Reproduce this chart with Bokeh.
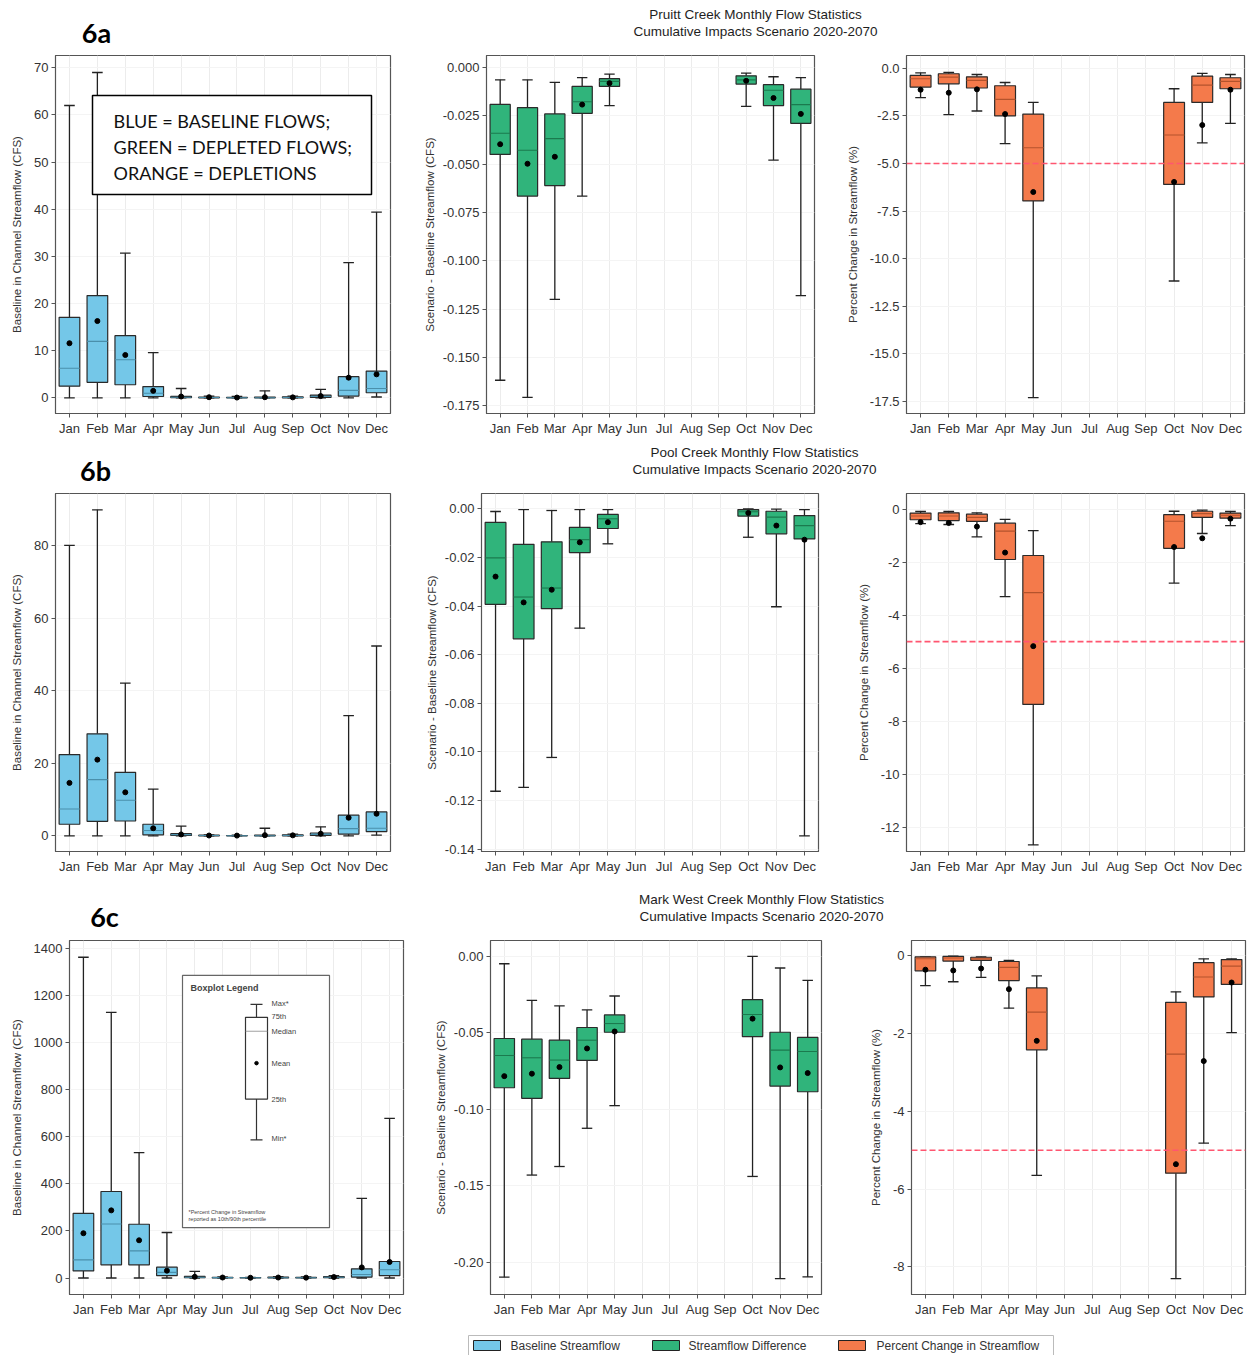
from bokeh.plotting import figure
from bokeh.layouts import column, row
from bokeh.models import Range1d, FixedTicker, PrintfTickFormatter, Span, ColumnDataSource
from bokeh.core.properties import value
from bokeh.embed import file_html
from bokeh.resources import INLINE

N = None
MONTHS = ["Jan", "Feb", "Mar", "Apr", "May", "Jun", "Jul", "Aug", "Sep", "Oct", "Nov", "Dec"]

# ---------------- Pruitt Creek ----------------
PRUITT_BASE_MAX = [62.0, 69.0, 30.7, 9.6, 2.0, 0.4, 0.3, 1.5, 0.4, 1.8, 28.7, 39.4]
PRUITT_BASE_Q3 = [17.1, 21.7, 13.2, 2.4, 0.35, 0.2, 0.15, 0.2, 0.25, 0.6, 4.5, 5.7]
PRUITT_BASE_MED = [6.3, 12.0, 8.1, 1.0, 0.15, 0.1, 0.05, 0.05, 0.1, 0.3, 1.6, 2.0]
PRUITT_BASE_Q1 = [2.5, 3.3, 2.8, 0.3, 0.05, 0.03, 0.02, 0.02, 0.02, 0.1, 0.4, 1.1]
PRUITT_BASE_MIN = [0, 0, 0, 0, 0, 0, 0, 0, 0, 0, 0, 0.2]
PRUITT_BASE_MEAN = [11.6, 16.3, 9.1, 1.5, 0.3, 0.15, 0.08, 0.15, 0.12, 0.4, 4.3, 5.0]

PRUITT_DIFF_MAX = [-0.0064, -0.0064, -0.0077, -0.0052, -0.0034, N, N, N, N, -0.0029, -0.0048, -0.0052]
PRUITT_DIFF_Q3 = [-0.0191, -0.0208, -0.0240, -0.0098, -0.0058, N, N, N, N, -0.0043, -0.0089, -0.0112]
PRUITT_DIFF_MED = [-0.0340, -0.0428, -0.0368, -0.0177, -0.0072, N, N, N, N, -0.0064, -0.0118, -0.0192]
PRUITT_DIFF_Q1 = [-0.0450, -0.0665, -0.0611, -0.0237, -0.0098, N, N, N, N, -0.0086, -0.0197, -0.0289]
PRUITT_DIFF_MIN = [-0.1618, -0.1707, -0.1200, -0.0665, -0.0197, N, N, N, N, -0.0201, -0.0479, -0.1180]
PRUITT_DIFF_MEAN = [-0.0397, -0.0498, -0.0462, -0.0192, -0.0081, N, N, N, N, -0.0069, -0.0158, -0.0240]

PRUITT_PCT_MAX = [-0.23, -0.21, -0.32, -0.74, -1.79, N, N, N, N, -1.07, -0.26, -0.32]
PRUITT_PCT_Q3 = [-0.37, -0.28, -0.44, -0.91, -2.40, N, N, N, N, -1.79, -0.40, -0.49]
PRUITT_PCT_MED = [-0.54, -0.46, -0.63, -1.63, -4.17, N, N, N, N, -3.50, -0.88, -0.68]
PRUITT_PCT_Q1 = [-0.98, -0.81, -1.03, -2.50, -6.97, N, N, N, N, -6.10, -1.79, -1.07]
PRUITT_PCT_MIN = [-1.54, -2.43, -2.24, -3.96, -17.31, N, N, N, N, -11.18, -3.92, -2.89]
PRUITT_PCT_MEAN = [-1.12, -1.28, -1.10, -2.40, -6.50, N, N, N, N, -5.97, -2.98, -1.12]

# ---------------- Pool Creek ----------------
POOL_BASE_MAX = [80.0, 89.8, 42.1, 12.9, 2.7, 0.3, 0.2, 2.1, 0.5, 2.5, 33.1, 52.3]
POOL_BASE_Q3 = [22.4, 28.1, 17.5, 3.2, 0.6, 0.2, 0.1, 0.2, 0.3, 0.8, 5.7, 6.6]
POOL_BASE_MED = [7.4, 15.5, 9.8, 1.5, 0.3, 0.1, 0.05, 0.05, 0.1, 0.4, 2.0, 2.1]
POOL_BASE_Q1 = [3.2, 4.0, 4.1, 0.3, 0.1, 0.03, 0.02, 0.02, 0.02, 0.1, 0.5, 1.2]
POOL_BASE_MIN = [0, 0, 0, 0, 0, 0, 0, 0, 0, 0, 0, 0.2]
POOL_BASE_MEAN = [14.6, 21.0, 12.0, 2.1, 0.4, 0.1, 0.08, 0.2, 0.15, 0.6, 5.0, 6.1]

POOL_DIFF_MAX = [-0.0011, -0.0003, -0.0007, -0.0003, -0.0003, N, N, N, N, 0.0, -0.0001, -0.0003]
POOL_DIFF_Q3 = [-0.0056, -0.0146, -0.0136, -0.0076, -0.0023, N, N, N, N, -0.0003, -0.0010, -0.0028]
POOL_DIFF_MED = [-0.0202, -0.0363, -0.0326, -0.0127, -0.0041, N, N, N, N, -0.0012, -0.0034, -0.0069]
POOL_DIFF_Q1 = [-0.0393, -0.0535, -0.0411, -0.0180, -0.0081, N, N, N, N, -0.0030, -0.0103, -0.0124]
POOL_DIFF_MIN = [-0.1162, -0.1146, -0.1023, -0.0491, -0.0144, N, N, N, N, -0.0117, -0.0403, -0.1346]
POOL_DIFF_MEAN = [-0.0279, -0.0385, -0.0333, -0.0138, -0.0055, N, N, N, N, -0.0017, -0.0069, -0.0127]

POOL_PCT_MAX = [-0.09, -0.09, -0.14, -0.39, -0.81, N, N, N, N, -0.08, -0.04, -0.09]
POOL_PCT_Q3 = [-0.15, -0.14, -0.19, -0.53, -1.75, N, N, N, N, -0.21, -0.08, -0.15]
POOL_PCT_MED = [-0.26, -0.26, -0.31, -0.83, -3.15, N, N, N, N, -0.46, -0.17, -0.23]
POOL_PCT_Q1 = [-0.40, -0.43, -0.46, -1.90, -7.37, N, N, N, N, -1.48, -0.31, -0.34]
POOL_PCT_MIN = [-0.55, -0.58, -1.05, -3.30, -12.67, N, N, N, N, -2.79, -0.92, -0.62]
POOL_PCT_MEAN = [-0.49, -0.52, -0.66, -1.64, -5.17, N, N, N, N, -1.43, -1.10, -0.36]

# ---------------- Mark West Creek ----------------
MARK_BASE_MAX = [1361, 1127, 532, 193, 28, 5, 3, 6, 5, 10, 338, 677]
MARK_BASE_Q3 = [274, 367, 228, 46, 7, 3, 2, 4, 3, 6, 39, 70]
MARK_BASE_MED = [77, 229, 115, 24, 3, 1.5, 1, 1, 1, 3, 15, 35]
MARK_BASE_Q1 = [30, 56, 56, 10, 1, 0.5, 0.3, 0.3, 0.3, 1, 4, 10]
MARK_BASE_MIN = [0, 0, 0, 0, 0, 0, 0, 0, 0, 0, 0, 0]
MARK_BASE_MEAN = [190, 287, 160, 31, 5, 2, 1, 2, 1.5, 4, 45, 68]

MARK_DIFF_MAX = [-0.0048, -0.0287, -0.0324, -0.0350, -0.0259, N, N, N, N, 0.0, -0.0076, -0.0157]
MARK_DIFF_Q3 = [-0.0537, -0.0541, -0.0548, -0.0465, -0.0383, N, N, N, N, -0.0283, -0.0496, -0.0530]
MARK_DIFF_MED = [-0.0648, -0.0663, -0.0678, -0.0548, -0.0439, N, N, N, N, -0.0380, -0.0613, -0.0622]
MARK_DIFF_Q1 = [-0.0859, -0.0928, -0.0798, -0.0680, -0.0496, N, N, N, N, -0.0524, -0.0848, -0.0885]
MARK_DIFF_MIN = [-0.2098, -0.1430, -0.1374, -0.1124, -0.0976, N, N, N, N, -0.1439, -0.2107, -0.2096]
MARK_DIFF_MEAN = [-0.0783, -0.0767, -0.0724, -0.0602, -0.0491, N, N, N, N, -0.0407, -0.0726, -0.0763]

MARK_PCT_MAX = [-0.03, -0.01, -0.03, -0.12, -0.52, N, N, N, N, -0.93, -0.08, -0.08]
MARK_PCT_Q3 = [-0.03, -0.02, -0.04, -0.15, -0.83, N, N, N, N, -1.20, -0.18, -0.10]
MARK_PCT_MED = [-0.08, -0.06, -0.08, -0.30, -1.45, N, N, N, N, -2.53, -0.55, -0.27]
MARK_PCT_Q1 = [-0.39, -0.14, -0.12, -0.64, -2.42, N, N, N, N, -5.59, -1.06, -0.74]
MARK_PCT_MIN = [-0.77, -0.67, -0.56, -1.35, -5.65, N, N, N, N, -8.30, -4.82, -1.98]
MARK_PCT_MEAN = [-0.36, -0.38, -0.33, -0.86, -2.19, N, N, N, N, -5.36, -2.71, -0.69]

TITLES = ["Pruitt Creek Monthly Flow Statistics", "Pool Creek Monthly Flow Statistics",
          "Mark West Creek Monthly Flow Statistics"]
SUBTITLE = "Cumulative Impacts Scenario 2020-2070"
PANEL_TAGS = ["6a", "6b", "6c"]
YLABELS = ["Baseline in Channel Streamflow (CFS)", "Scenario - Baseline Streamflow (CFS)",
           "Percent Change in Streamflow (%)"]
LEGEND_LABELS = ["Baseline Streamflow", "Streamflow Difference", "Percent Change in Streamflow"]
THRESHOLD = -5

FONT = "Liberation Sans"
BLUE, GREEN, ORANGE = "#74c7e8", "#30b47b", "#f47a4b"
MED_COL = {BLUE: "#4a8fab", GREEN: "#1b7a4e", ORANGE: "#b4532c"}
TOTAL_W = 1251


def make_panel(width, height, lb, rb, tb, bb, yr, ticks, fmt, ylabel, stats, color, lstand, ref=False):
    p = figure(width=width, height=height, x_range=Range1d(0.5, 12.5), y_range=Range1d(*yr),
               output_backend="svg", toolbar_location=None, title=None,
               min_border_left=lb, min_border_right=rb, min_border_top=tb, min_border_bottom=bb)
    mn, q1, med, q3, mx, mean = stats
    idx = [i for i in range(12) if q1[i] is not None]
    xs = [i + 1 for i in idx]
    hw, cw = 0.37, 0.19
    src = ColumnDataSource(dict(
        x=xs, xl=[x - hw for x in xs], xr=[x + hw for x in xs],
        cl=[x - cw for x in xs], cr=[x + cw for x in xs],
        lo=[mn[i] for i in idx], q1=[q1[i] for i in idx], med=[med[i] for i in idx],
        q3=[q3[i] for i in idx], hi=[mx[i] for i in idx], mean=[mean[i] for i in idx]))
    p.xgrid.grid_line_color = "#ececec"
    p.ygrid.grid_line_color = "#f4f4f4"
    if ref:
        p.add_layout(Span(location=THRESHOLD, dimension="width", line_color="#ff5670",
                          line_dash="6 3", line_width=1.6))
    wl = dict(line_color="#222222", line_width=1.3)
    p.segment(x0="x", y0="q3", x1="x", y1="hi", source=src, **wl)
    p.segment(x0="x", y0="lo", x1="x", y1="q1", source=src, **wl)
    p.segment(x0="cl", y0="hi", x1="cr", y1="hi", source=src, **wl)
    p.segment(x0="cl", y0="lo", x1="cr", y1="lo", source=src, **wl)
    p.vbar(x="x", width=2 * hw, top="q3", bottom="q1", source=src, fill_color=color,
           line_color="#2a2a2a", line_width=1.2)
    p.segment(x0="xl", y0="med", x1="xr", y1="med", source=src, line_color=MED_COL[color], line_width=1.1)
    p.scatter(x="x", y="mean", source=src, size=5, color="black")

    p.xaxis.ticker = FixedTicker(ticks=list(range(1, 13)))
    p.xaxis.major_label_overrides = {i + 1: m for i, m in enumerate(MONTHS)}
    p.yaxis.ticker = FixedTicker(ticks=ticks)
    p.yaxis.formatter = PrintfTickFormatter(format=fmt)
    p.yaxis.axis_label = ylabel
    p.yaxis.axis_label_standoff = lstand
    for ax in p.axis:
        ax.major_label_text_font = FONT
        ax.major_label_text_font_size = "13px"
        ax.major_label_text_color = "#333333"
        ax.axis_label_text_font = FONT
        ax.axis_label_text_font_size = "11.5px"
        ax.axis_label_text_font_style = "normal"
        ax.axis_label_text_color = "#333333"
        ax.major_tick_out = 4
        ax.major_tick_in = 0
        ax.minor_tick_out = 0
        ax.minor_tick_in = 0
        ax.major_label_standoff = 3
        ax.axis_line_color = "#555555"
        ax.major_tick_line_color = "#555555"
    p.outline_line_color = "#555555"
    p.outline_line_width = 1.2
    return p


def strip(h):
    p = figure(width=TOTAL_W, height=h, x_range=Range1d(0, TOTAL_W), y_range=Range1d(h, 0),
               output_backend="svg", toolbar_location=None, title=None, min_border=0,
               x_axis_location=None, y_axis_location=None)
    p.grid.visible = False
    p.outline_line_color = None
    return p


def header(h, title, tag, tx, ty1, ty2, gx, gy):
    p = strip(h)
    p.text(x=[tx, tx], y=[ty1, ty2], text=[title, SUBTITLE], text_font=value(FONT),
           text_font_size="13.5px", text_align="center", text_baseline="middle", text_color="#1e1e1e")
    p.text(x=[gx], y=[gy], text=[tag], text_font=value("Lato"), text_font_style="bold",
           text_font_size="27px", text_align="center", text_baseline="middle", text_color="#000000")
    return p


def tick_list(start, step, n):
    return [round(start + step * k, 6) for k in range(n)]


def data_xy(frame, xr, yr, px, py):
    fl, ft, fw, fh = frame
    return (xr[0] + (px - fl) / fw * (xr[1] - xr[0]),
            yr[1] - (py - ft) / fh * (yr[1] - yr[0]))


XR = (0.5, 12.5)

# ---------- Row 1 (page y 53..440, frames 55..413) ----------
Y1A, Y1B, Y1C = (-3.3, 72.6), (-0.179, 0.0062), (-18.15, 0.68)
p1a = make_panel(420, 387, 55, 30, 2, 27, Y1A, tick_list(0, 10, 8), "%d", YLABELS[0],
                 (PRUITT_BASE_MIN, PRUITT_BASE_Q1, PRUITT_BASE_MED, PRUITT_BASE_Q3, PRUITT_BASE_MAX, PRUITT_BASE_MEAN),
                 BLUE, 8)
p1b = make_panel(415, 387, 61, 21, 2, 27, Y1B, tick_list(0, -0.025, 8), "%.3f", YLABELS[1],
                 (PRUITT_DIFF_MIN, PRUITT_DIFF_Q1, PRUITT_DIFF_MED, PRUITT_DIFF_Q3, PRUITT_DIFF_MAX, PRUITT_DIFF_MEAN),
                 GREEN, 4)
p1c = make_panel(416, 387, 71, 7, 2, 27, Y1C, tick_list(0, -2.5, 8), "%.1f", YLABELS[2],
                 (PRUITT_PCT_MIN, PRUITT_PCT_Q1, PRUITT_PCT_MED, PRUITT_PCT_Q3, PRUITT_PCT_MAX, PRUITT_PCT_MEAN),
                 ORANGE, 8, ref=True)

# note box in 6a (page pixel layout -> data coords of panel 1a)
F1A = (55, 55, 335, 358)
bx0, by0 = data_xy(F1A, XR, Y1A, 92, 95)
bx1, by1 = data_xy(F1A, XR, Y1A, 371, 194)
p1a.quad(left=[bx0], right=[bx1], top=[by0], bottom=[by1], fill_color="white",
         line_color="black", line_width=1.5)
NOTE_LINES = ["BLUE  =  BASELINE  FLOWS;", "GREEN = DEPLETED FLOWS;", "ORANGE = DEPLETIONS"]
nts = [data_xy(F1A, XR, Y1A, 113, yy) for yy in (120, 146, 172)]
p1a.text(x=[t[0] for t in nts], y=[t[1] for t in nts], text=NOTE_LINES, text_font=value("Lato"),
         text_font_size="18px", text_align="left", text_baseline="middle", text_color="#111111")

# ---------- Row 2 (page y 490..885, frames 493..851) ----------
Y2A, Y2B, Y2C = (-4.3, 94.3), (-0.141, 0.0063), (-12.92, 0.59)
p2a = make_panel(420, 395, 55, 30, 3, 34, Y2A, tick_list(0, 20, 5), "%d", YLABELS[0],
                 (POOL_BASE_MIN, POOL_BASE_Q1, POOL_BASE_MED, POOL_BASE_Q3, POOL_BASE_MAX, POOL_BASE_MEAN),
                 BLUE, 8)
p2b = make_panel(415, 395, 61, 17, 3, 34, Y2B, tick_list(0, -0.02, 8), "%.2f", YLABELS[1],
                 (POOL_DIFF_MIN, POOL_DIFF_Q1, POOL_DIFF_MED, POOL_DIFF_Q3, POOL_DIFF_MAX, POOL_DIFF_MEAN),
                 GREEN, 4)
p2c = make_panel(416, 395, 71, 7, 3, 34, Y2C, tick_list(0, -2, 7), "%d", YLABELS[2],
                 (POOL_PCT_MIN, POOL_PCT_Q1, POOL_PCT_MED, POOL_PCT_Q3, POOL_PCT_MAX, POOL_PCT_MEAN),
                 ORANGE, 8, ref=True)

# ---------- Row 3 (page y 936..1319, frames 940..1295) ----------
Y3A, Y3B, Y3C = (-70, 1432), (-0.2211, 0.0104), (-8.71, 0.39)
p3a = make_panel(430, 383, 69, 27, 4, 24, Y3A, tick_list(0, 200, 8), "%d", YLABELS[0],
                 (MARK_BASE_MIN, MARK_BASE_Q1, MARK_BASE_MED, MARK_BASE_Q3, MARK_BASE_MAX, MARK_BASE_MEAN),
                 BLUE, 8)
p3b = make_panel(415, 383, 60, 24, 4, 24, Y3B, tick_list(0, -0.05, 5), "%.2f", YLABELS[1],
                 (MARK_DIFF_MIN, MARK_DIFF_Q1, MARK_DIFF_MED, MARK_DIFF_Q3, MARK_DIFF_MAX, MARK_DIFF_MEAN),
                 GREEN, 4)
p3c = make_panel(406, 383, 66, 6, 4, 24, Y3C, tick_list(0, -2, 5), "%d", YLABELS[2],
                 (MARK_PCT_MIN, MARK_PCT_Q1, MARK_PCT_MED, MARK_PCT_Q3, MARK_PCT_MAX, MARK_PCT_MEAN),
                 ORANGE, 8, ref=True)

# boxplot legend inside 6c baseline panel
F3A = (69, 940, 334, 355)


def d3(px, py):
    return data_xy(F3A, XR, Y3A, px, py)


l0 = d3(182, 975); l1 = d3(329, 1228)
p3a.quad(left=[l0[0]], right=[l1[0]], top=[l0[1]], bottom=[l1[1]], fill_color="white",
         line_color="#666666", line_width=1.2)
t = d3(190, 988)
p3a.text(x=[t[0]], y=[t[1]], text=["Boxplot Legend"], text_font=value(FONT), text_font_style="bold",
         text_font_size="9px", text_color="#444444", text_baseline="middle")
bb0 = d3(245, 1017); bb1 = d3(267, 1099)
wt = d3(256, 1004); wb = d3(256, 1140)
c0 = d3(250, 1004); c1 = d3(262, 1140)
md = d3(245, 1031); md1 = d3(267, 1031)
mnp = d3(256, 1063)
p3a.segment(x0=[wt[0], wb[0], c0[0], c0[0]], y0=[wt[1], wb[1], wt[1], wb[1]],
            x1=[wt[0], wb[0], c1[0], c1[0]], y1=[bb0[1], bb1[1], wt[1], wb[1]],
            line_color="#333333", line_width=1.2)
p3a.quad(left=[bb0[0]], right=[bb1[0]], top=[bb0[1]], bottom=[bb1[1]], fill_color="white",
         line_color="#333333", line_width=1.2)
p3a.segment(x0=[md[0]], y0=[md[1]], x1=[md1[0]], y1=[md1[1]], line_color="#888888", line_width=0.8)
p3a.scatter(x=[mnp[0]], y=[mnp[1]], size=3.5, color="black")
LEG_KEYS = ["Max*", "75th", "Median", "Mean", "25th", "Min*"]
ky = [d3(271, yy) for yy in (1003, 1016, 1031, 1063, 1099, 1139)]
p3a.text(x=[k[0] for k in ky], y=[k[1] for k in ky], text=LEG_KEYS, text_font=value(FONT),
         text_font_size="7.5px", text_color="#444444", text_baseline="middle")
FOOT = ["*Percent Change in Streamflow", "reported as 10th/90th percentile"]
fy = [d3(188, yy) for yy in (1212, 1219)]
p3a.text(x=[k[0] for k in fy], y=[k[1] for k in fy], text=FOOT, text_font=value(FONT),
         text_font_size="5.5px", text_color="#444444", text_baseline="middle")

# ---------- headers ----------
h1 = header(53, TITLES[0], PANEL_TAGS[0], 755, 14, 31, 96, 32)          # page y 0..53
h2 = header(50, TITLES[1], PANEL_TAGS[1], 754, 12, 29, 95, 30)          # page y 440..490
h3 = header(51, TITLES[2], PANEL_TAGS[2], 761, 14, 31, 104, 31)         # page y 885..936

# ---------- legend strip (page y 1319..1355) ----------
lg = strip(36)
lg.quad(left=[468], right=[1053], top=[16], bottom=[44], fill_color="white", line_color="#bbbbbb", line_width=1)
sw_x = [473, 652, 838]
lg.quad(left=sw_x, right=[x + 27 for x in sw_x], top=[21] * 3, bottom=[31] * 3,
        fill_color=[BLUE, GREEN, ORANGE], line_color="#222222", line_width=1)
lg.text(x=[510, 688, 876], y=[26] * 3, text=LEGEND_LABELS, text_font=value(FONT),
        text_font_size="12px", text_color="#333333", text_baseline="middle")

layout = column(h1, row(p1a, p1b, p1c), h2, row(p2a, p2b, p2c), h3, row(p3a, p3b, p3c), lg)
open("out.html", "w").write(file_html(layout, INLINE))
